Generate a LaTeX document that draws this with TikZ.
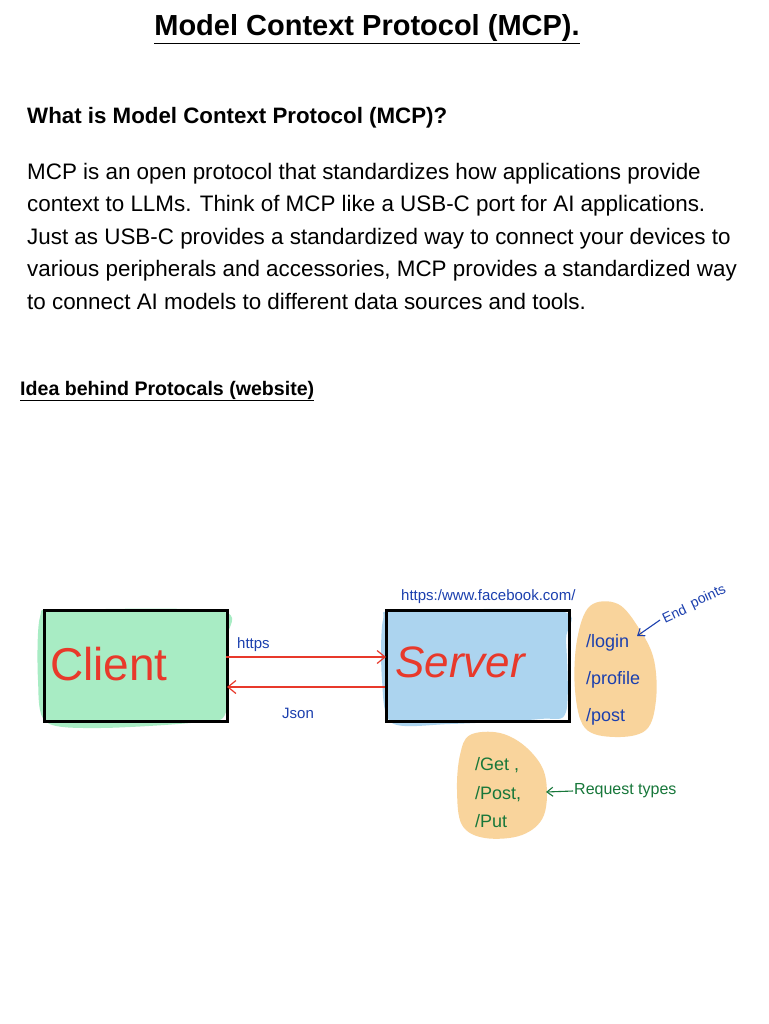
\documentclass[tikz,border=0pt]{standalone}
\usepackage{fontspec}
\setmainfont{Liberation Sans}
\usetikzlibrary{arrows.meta}
\definecolor{penred}{HTML}{E8392B}
\definecolor{penblue}{HTML}{1B3FAE}
\definecolor{pengreen}{HTML}{17773A}
\definecolor{mintfill}{HTML}{A8ECC4}
\definecolor{skyfill}{HTML}{ACD4EF}
\definecolor{peachfill}{HTML}{F9D49C}
\tikzset{
  boxframe/.style={draw=black, line width=3pt},
  flow/.style={draw=penred, line width=1.2pt, -{Straight Barb[length=8pt,width=13pt]}},
  note/.style={-{Straight Barb[length=6pt,width=9pt]}, line width=1.1pt},
  hand/.style={font=\fontsize{15}{15}\selectfont, inner sep=1pt},
}
\begin{document}
\begin{tikzpicture}[x=1pt,y=-1pt]
\useasboundingbox (0,0) rectangle (768,1024);
\fill[white] (0,0) rectangle (768,1024);

% title and text
\node[anchor=base, font=\bfseries\fontsize{29}{29}\selectfont, inner sep=0] (title) at (367,36) {\underline{Model Context Protocol (MCP).}};
\node[anchor=base west, font=\bfseries\fontsize{22.3}{22.3}\selectfont, inner sep=0] (q) at (27,124) {What is Model Context Protocol (MCP)?};
\node[anchor=north west, font=\fontsize{22.4}{32.5}\selectfont, align=left, inner sep=0] (body) at (27,163)
 {MCP is an open protocol that standardizes how applications provide\\
  context to LLMs. Think of MCP like a USB-C port for AI applications.\\
  Just as USB-C provides a standardized way to connect your devices to\\
  various peripherals and accessories, MCP provides a standardized way\\
  to connect AI models to different data sources and tools.};
\node[anchor=base west, font=\bfseries\fontsize{19.6}{19.6}\selectfont, inner sep=0] (idea) at (20,395) {\underline{Idea behind Protocals (website)}};

% fills (hand shaded, slightly off the frames)
\fill[mintfill] plot[smooth cycle, tension=0.5] coordinates {(40,617) (60,610) (220,611) (227,640) (226,712) (200,722) (100,728) (46,722) (38,680)};
\fill[skyfill] plot[smooth cycle, tension=0.5] coordinates {(383,620) (400,611) (560,611) (566,640) (566,712) (540,719) (450,724) (392,723) (382,680)};
\fill[peachfill] plot[smooth cycle, tension=0.6] coordinates {(590,606) (618,604) (640,630) (654,660) (656,700) (646,730) (615,737) (585,728) (575,690) (577,640)};
\fill[peachfill] plot[smooth cycle, tension=0.6] coordinates {(470,735) (500,733) (527,748) (545,775) (544,815) (522,835) (485,838) (462,825) (457,790) (460,755)};

% boxes
\node[boxframe, minimum width=183pt, minimum height=111pt, inner sep=0, anchor=north west] (client) at (43,609) {};
\node[boxframe, minimum width=183pt, minimum height=111pt, inner sep=0, anchor=north west] (server) at (385,609) {};
\node[text=penred, font=\fontsize{46}{46}\selectfont] (clientlbl) at (109,664) {Client};
\node[text=penred, font=\fontsize{44}{44}\selectfont\itshape] (serverlbl) at (460,662) {Server};

% connectors
\coordinate (c1) at (226,657); \coordinate (s1) at (386,657);
\coordinate (s2) at (385,687); \coordinate (c2) at (227,687);
\draw[flow] (c1) -- (s1);
\draw[flow] (s2) -- (c2);
\node[hand, text=penblue, anchor=base west] (https) at (236,648) {https};
\node[hand, text=penblue, anchor=base west] (json) at (281,718) {Json};
\node[hand, text=penblue, anchor=base west] (url) at (400,600) {https:/www.facebook.com/};

% endpoints
\node[hand, text=penblue, anchor=base west, font=\fontsize{18}{18}\selectfont] (ep1) at (585,647) {/login};
\node[hand, text=penblue, anchor=base west, font=\fontsize{18}{18}\selectfont] (ep2) at (585,684) {/profile};
\node[hand, text=penblue, anchor=base west, font=\fontsize{18}{18}\selectfont] (ep3) at (585,721) {/post};
\node[hand, text=penblue, rotate=25, anchor=south west, font=\fontsize{14}{14}\selectfont, inner sep=0] (epw1) at (665,624) {End};
\node[hand, text=penblue, rotate=25, anchor=south west, font=\fontsize{14}{14}\selectfont, inner sep=0] (epw2) at (694,611) {points};
\coordinate (epa) at (660,620);
\coordinate (epb) at (637,636);
\draw[note, draw=penblue] (epa) -- (epb);

% request types
\node[hand, text=pengreen, anchor=base west, font=\fontsize{18}{18}\selectfont] (rt1) at (474,770) {/Get ,};
\node[hand, text=pengreen, anchor=base west, font=\fontsize{18}{18}\selectfont] (rt2) at (474,799) {/Post,};
\node[hand, text=pengreen, anchor=base west, font=\fontsize{18}{18}\selectfont] (rt3) at (474,827) {/Put};
\node[hand, text=pengreen, anchor=west, font=\fontsize{16}{16}\selectfont] (rtlbl) at (573,791) {Request types};
\coordinate (rta) at (546,792);
\draw[note, draw=pengreen] (rtlbl.west) -- (rta);
\end{tikzpicture}
\end{document}
